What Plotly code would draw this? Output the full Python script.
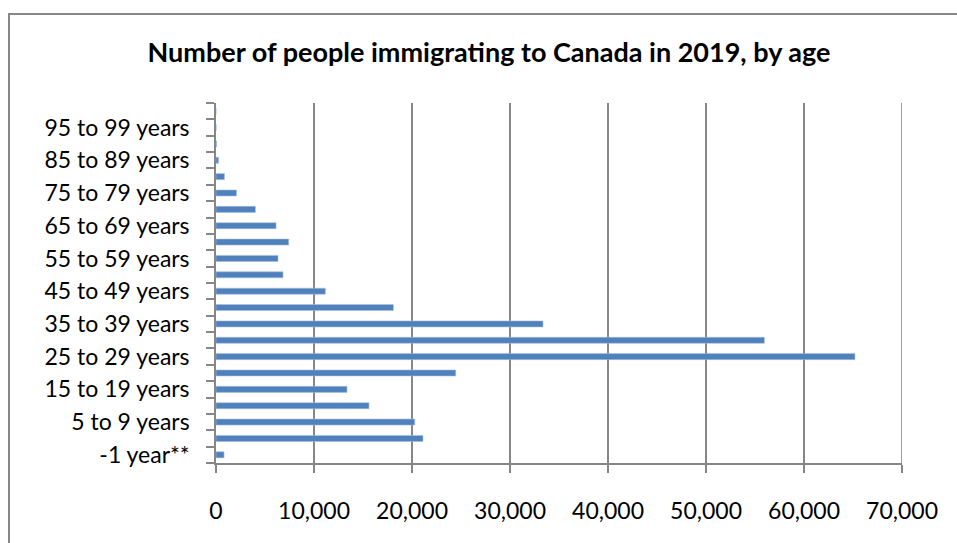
import plotly.graph_objects as go

categories = ["-1 year**", "1 to 4 years", "5 to 9 years", "10 to 14 years",
              "15 to 19 years", "20 to 24 years", "25 to 29 years", "30 to 34 years",
              "35 to 39 years", "40 to 44 years", "45 to 49 years", "50 to 54 years",
              "55 to 59 years", "60 to 64 years", "65 to 69 years", "70 to 74 years",
              "75 to 79 years", "80 to 84 years", "85 to 89 years", "90 to 94 years",
              "95 to 99 years", "100 years and over"]
values = [820, 21120, 20280, 15610, 13370, 24460, 65200, 55960, 33370, 18100,
          11160, 6840, 6330, 7420, 6130, 4020, 2090, 860, 250, 60, 10, 0]
tick_labels = [c if i % 2 == 0 else "" for i, c in enumerate(categories)]
x_ticks = [0, 10000, 20000, 30000, 40000, 50000, 60000, 70000]

W, H = 957, 543
ML, MR, MT, MB = 216, 55, 103, 80
PW, PH = W - ML - MR, H - MT - MB

FONT = "Lato"
GRAY = "#878787"

fig = go.Figure(go.Bar(
    x=values, y=categories, orientation="h",
    marker=dict(color="#4f81bd", line=dict(color="#a7c0de", width=0.6)),
    width=0.37,
))

fig.update_layout(
    width=W, height=H,
    margin=dict(l=ML, r=MR, t=MT, b=MB, pad=0),
    paper_bgcolor="white", plot_bgcolor="white",
    font=dict(family=FONT, size=23, color="black"),
    showlegend=False,
    title=dict(text="<b>Number of people immigrating to Canada in 2019, by age</b>",
               x=489 / W, xref="container", xanchor="center",
               y=1 - 53 / H, yref="container", yanchor="middle",
               font=dict(family=FONT, size=27, color="black")),
    xaxis=dict(range=[0, 70000], tickvals=x_ticks, tickformat=",d",
               showgrid=True, gridcolor=GRAY, gridwidth=1.6,
               showline=True, linecolor=GRAY, linewidth=1.6,
               ticks="outside", ticklen=8, tickcolor=GRAY, tickwidth=1.6,
               ticklabelstandoff=19, zeroline=False, fixedrange=True),
    yaxis=dict(type="category", categoryorder="array", categoryarray=categories,
               tickmode="array", tickvals=categories, ticktext=tick_labels,
               tickson="boundaries", ticks="outside", ticklen=8, tickcolor=GRAY, tickwidth=1.6,
               showline=True, linecolor=GRAY, linewidth=1.6, showgrid=False,
               ticklabelstandoff=20, range=[-0.5, len(categories) - 0.5], fixedrange=True),
)

# gridline at the last tick (plotly omits gridlines at the range edge)
fig.add_shape(type="line", xref="x", yref="paper", x0=x_ticks[-1], x1=x_ticks[-1],
              y0=0, y1=1, line=dict(color=GRAY, width=1.6), layer="below")

# outer chart-area frame
fig.add_shape(type="rect", xref="paper", yref="paper",
              x0=(9 - ML) / PW, x1=(W + 10 - ML) / PW,
              y0=-(H + 10 - (MT + PH)) / PH, y1=1 + (MT - 14) / PH,
              line=dict(color=GRAY, width=2), fillcolor="rgba(0,0,0,0)", layer="below")

fig.write_html("out.html")
